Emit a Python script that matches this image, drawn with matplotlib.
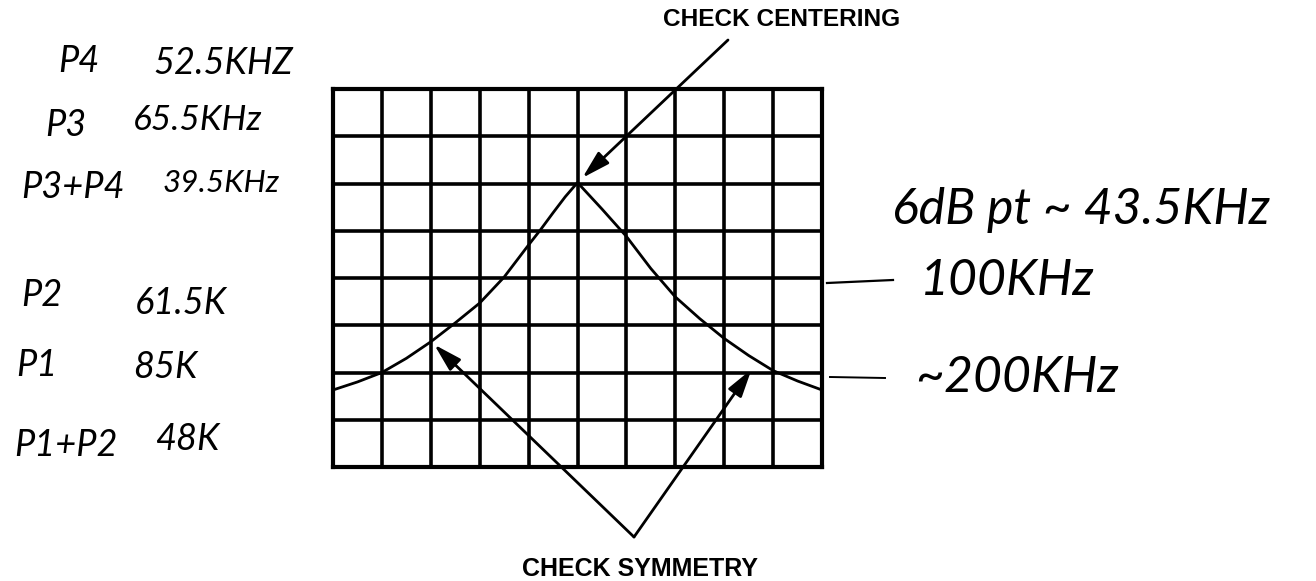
import matplotlib
matplotlib.use("Agg")
import matplotlib.pyplot as plt

# ---------------- data ----------------
# oscilloscope screen: 10 x 8 divisions
n_cols = 10
n_rows = 8
# response curve traced on the graticule (divisions)
curve_x = [0.0, 0.5, 1.0, 1.5, 2.0, 2.5, 3.0, 3.5, 4.0, 4.25, 4.5, 4.75, 5.0,
           5.25, 5.5, 5.75, 6.0, 6.5, 7.0, 7.5, 8.0, 8.5, 9.0, 9.5, 10.0]
curve_y = [1.63, 1.80, 2.0, 2.30, 2.65, 3.05, 3.47, 4.02, 4.70, 5.03, 5.38, 5.72, 6.02,
           5.74, 5.46, 5.17, 4.88, 4.20, 3.6, 3.14, 2.72, 2.36, 2.04, 1.82, 1.63]
# arrow targets (divisions)
center_target = (5.1, 6.12)
sym_targets = [(2.07, 2.59), (8.56, 2.07)]

title_top = "CHECK CENTERING"
title_bottom = "CHECK SYMMETRY"

left_labels = ["P4", "P3", "P3+P4", "P2", "P1", "P1+P2"]
left_values = ["52.5KHZ", "65.5KHz", "39.5KHz", "61.5K", "85K", "48K"]
right_notes = ["6dB pt ~ 43.5KHz", "100KHz", "~200KHz"]

# ---------------- figure ----------------
W, H = 1316, 581
fig = plt.figure(figsize=(W / 100, H / 100), dpi=100)
fig.patch.set_facecolor("white")

# overlay in image pixel coordinates (y down)
ov = fig.add_axes([0, 0, 1, 1])
ov.set_xlim(0, W)
ov.set_ylim(H, 0)
ov.axis("off")

# graticule axes
gl, gr, gt, gb = 333, 822, 89, 467
ax = fig.add_axes([gl / W, 1 - gb / H, (gr - gl) / W, (gb - gt) / H])
ax.set_xlim(0, n_cols)
ax.set_ylim(0, n_rows)
ax.set_xticks(range(n_cols + 1))
ax.set_yticks(range(n_rows + 1))
ax.tick_params(length=0, labelbottom=False, labelleft=False)
ax.grid(True, color="black", linewidth=2.6)
for s in ax.spines.values():
    s.set_linewidth(3.0)
    s.set_color("black")
ax.patch.set_alpha(0)

ax.plot(curve_x, curve_y, color="black", linewidth=2.0,
        solid_joinstyle="round", solid_capstyle="round", clip_on=False)

renderer = fig.canvas.get_renderer()


def fit_text(s, x0, x1, yc, lo=1, hi=100, **kw):
    t = ov.text(x0, yc, s, ha="left", va="center", fontsize=20, **kw)
    w = t.get_window_extent(renderer).width
    t.set_fontsize(min(hi, max(lo, 20 * (x1 - x0) / w)))
    return t


bold = dict(family="Liberation Sans", fontweight="bold", color="black")
hand = dict(family=["Lato", "DejaVu Sans"], style="italic",
            fontweight="normal", color="black")

fit_text(title_top, 663, 900, 20, **bold)
fit_text(title_bottom, 522, 758, 569, **bold)

# arrows
aprops = dict(arrowstyle="-|>,head_length=0.85,head_width=0.24", color="black",
              lw=2.0, mutation_scale=20, shrinkA=0, shrinkB=0)
ax.annotate("", xy=center_target, xycoords="data", xytext=(728, 40),
            textcoords=ov.transData, arrowprops=aprops, annotation_clip=False)
for tgt in sym_targets:
    ax.annotate("", xy=tgt, xycoords="data", xytext=(634, 537),
                textcoords=ov.transData, arrowprops=aprops,
                annotation_clip=False)

# handwritten notes (left): labels centred, values fitted to their span
label_pos = [(79, 62), (66, 125), (73, 188), (42, 296), (37, 365), (66, 445)]
value_boxes = [(153, 297, 63), (133, 262, 120), (163, 280, 183),
               (135, 233, 303), (133, 198, 368), (155, 237, 440)]
for s, (x, y) in zip(left_labels, label_pos):
    ov.text(x, y, s, ha="center", va="center", fontsize=26, **hand)
for s, (a, b, y) in zip(left_values, value_boxes):
    fit_text(s, a, b, y, lo=22, hi=26, **hand)

# handwritten notes (right)
note_boxes = [(892, 1310, 210), (920, 1103, 281), (915, 1143, 378)]
for s, (a, b, y) in zip(right_notes, note_boxes):
    fit_text(s, a, b, y, hi=36, **hand)
ov.plot([827, 893], [283, 280], color="black", lw=1.6)
ov.plot([830, 885], [377, 378], color="black", lw=1.4)

fig.savefig("out.png", dpi=100, facecolor="white")
